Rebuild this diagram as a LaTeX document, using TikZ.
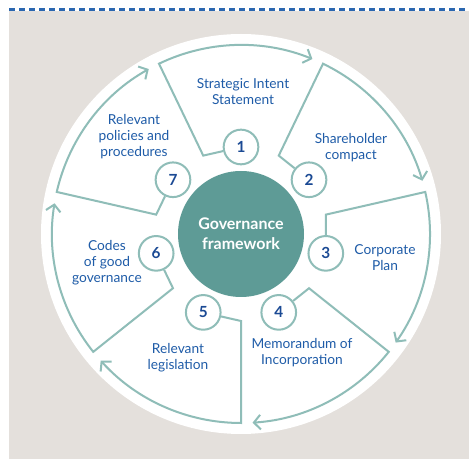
\documentclass[tikz,border=0pt]{standalone}
\usepackage{fontspec}
\setmainfont{Lato}
\usepackage{tikz}
\usetikzlibrary{arrows.meta}

\begin{document}
\begin{tikzpicture}[x=0.75pt,y=0.75pt,yscale=-1,xscale=1,
  segline/.style={draw={rgb, 255:red, 143; green, 189; blue, 184 }, line width=1.5pt, line join=miter, -{Straight Barb[length=5pt,width=11pt]}},
  numring/.style={circle, draw={rgb, 255:red, 143; green, 189; blue, 184 }, fill=white, line width=1.5pt, minimum size=26pt, inner sep=0pt, text={rgb, 255:red, 27; green, 74; blue, 148 }, font=\bfseries\fontsize{11.5}{12}\selectfont},
  seglabel/.style={align=center, inner sep=0.75pt, text={rgb, 255:red, 31; green, 92; blue, 168 }, font=\fontsize{10.3}{12}\selectfont}
  ]
\useasboundingbox (0,0) rectangle (469,459);
%Shapes (background)
\fill [color={rgb, 255:red, 228; green, 224; blue, 220 }] (9,11) rectangle (469,459) ;
%Straight Lines (top rule)
\draw [color={rgb, 255:red, 43; green, 103; blue, 176 }, line width=2.2pt, dash pattern={on 4.5pt off 3pt}] (9,9.5) -- (469,9.5) ;
%Shapes (white disc)
\fill [white] (241,234) circle [radius=200] ;

% Centre Node
\draw (241,234) node [circle, fill={rgb, 255:red, 94; green, 155; blue, 150 }, minimum size=94.5pt, inner sep=0pt, align=center, text=white, font=\bfseries\fontsize{12}{15}\selectfont] (core) {Governance\\framework};

% Number Nodes
\draw (241,147) node [numring] (n1) {1};
\draw (309.02,179.76) node [numring] (n2) {2};
\draw (325.82,253.36) node [numring] (n3) {3};
\draw (278.75,312.39) node [numring] (n4) {4};
\draw (203.25,312.39) node [numring] (n5) {5};
\draw (156.18,253.36) node [numring] (n6) {6};
\draw (172.98,179.76) node [numring] (n7) {7};

% Inner and outer corners
\coordinate (i1) at (203.25,155.61);
\coordinate (o1) at (158.99,63.71);
\coordinate (i2) at (278.75,155.61);
\coordinate (o2) at (323.01,63.71);
\coordinate (i3) at (325.82,214.64);
\coordinate (o3) at (425.26,191.95);
\coordinate (i4) at (309.02,288.24);
\coordinate (o4) at (388.76,351.84);
\coordinate (i5) at (241,321);
\coordinate (o5) at (241,423);
\coordinate (i6) at (172.98,288.24);
\coordinate (o6) at (93.24,351.84);
\coordinate (i7) at (156.18,214.64);
\coordinate (o7) at (56.74,191.95);

%Curve Lines (segments)
\draw [segline] (n1) -- (i1) -- (o1) arc [start angle=-115.71, end angle=-67.78, radius=189] ;
\draw [segline] (n2) -- (i2) -- (o2) arc [start angle=-64.29, end angle=-16.36, radius=189] ;
\draw [segline] (n3) -- (i3) -- (o3) arc [start angle=-12.86, end angle=35.07, radius=189] ;
\draw [segline] (n4) -- (i4) -- (o4) arc [start angle=38.57, end angle=86.5, radius=189] ;
\draw [segline] (n5) -- (i5) -- (o5) arc [start angle=90, end angle=137.93, radius=189] ;
\draw [segline] (n6) -- (i6) -- (o6) arc [start angle=141.43, end angle=189.36, radius=189] ;
\draw [segline] (n7) -- (i7) -- (o7) arc [start angle=192.86, end angle=240.79, radius=189] ;

% Text Node
\draw (243,92) node [seglabel] (t1) {Strategic Intent\\Statement};
% Text Node
\draw (351,148) node [seglabel] (t2) {Shareholder\\compact};
% Text Node
\draw (385,258) node [seglabel] (t3) {Corporate\\Plan};
% Text Node
\draw (302,353) node [seglabel] (t4) {Memorandum of\\Incorporation};
% Text Node
\draw (178,358) node [seglabel] (t5) {Relevant\\legislation};
% Text Node
\draw (107,263) node [seglabel] (t6) {Codes\\of good\\governance};
% Text Node
\draw (134,137) node [seglabel] (t7) {Relevant\\policies and\\procedures};
\end{tikzpicture}
\end{document}
